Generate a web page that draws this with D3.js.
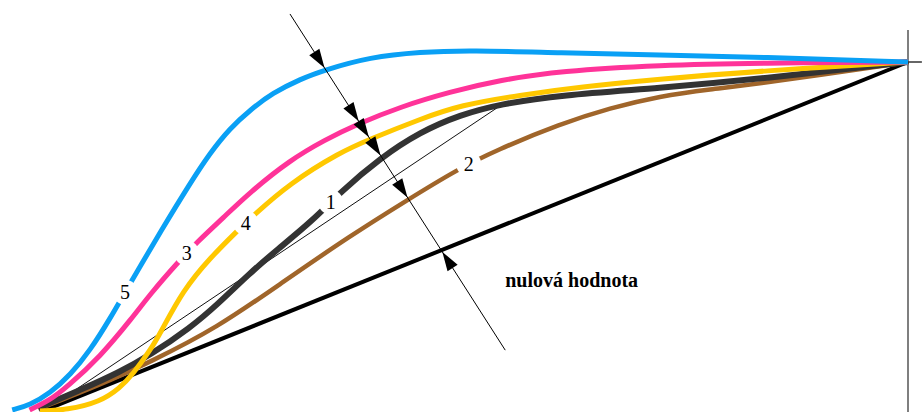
<!DOCTYPE html>
<html>
<head>
<meta charset="utf-8">
<script src="https://cdn.jsdelivr.net/npm/d3@7/dist/d3.min.js"></script>
<style>
  html, body { margin: 0; padding: 0; background: #fff; }
  svg { display: block; }
  text { font-family: "Liberation Serif", "Times New Roman", "DejaVu Serif", serif; }
</style>
</head>
<body>
<svg id="chart" width="922" height="412"></svg>
<script>
// Curve 5 (blue)
const x5 = [-3.2, -1.2, 1.2, 3.5, 5.8, 8.1, 9.8, 11.5, 13.8, 17.3, 19.6, 21.9, 24.2, 26.8, 30.0, 32.8, 38.0, 43.8, 49.5, 59.9, 71.4, 82.9, 100];
const y5 = [0, 1.4, 4.9, 10.1, 17.2, 26.4, 33.9, 41.1, 50.9, 65.2, 73.9, 81.0, 86.2, 91.1, 95.1, 97.7, 101.4, 102.9, 103.4, 102.6, 102.0, 101.4, 100];
// Curve 3 (pink)
const x3 = [-1.2, 1.2, 3.1, 6.9, 10.7, 12.7, 15.8, 18.1, 21.1, 24.2, 28.8, 32.8, 36.6, 41.5, 47.2, 53.0, 59.9, 71.4, 82.9, 100];
const y3 = [0, 2.9, 6.6, 15.2, 26.7, 33.3, 42.2, 48.3, 55.2, 62.6, 71.8, 77.6, 82.2, 87.1, 91.4, 94.8, 97.4, 99.1, 99.7, 100];
// Curve 4 (yellow)
const x4 = [0, 3.1, 6.9, 9.2, 10.7, 12.7, 13.8, 16.5, 19.6, 22.7, 24.5, 28.8, 34.6, 37.8, 43.8, 48.4, 55.3, 62.2, 71.4, 82.9, 100];
const y4 = [-0.3, 0, 2.3, 6.3, 10.3, 17.2, 21.8, 34.5, 43.7, 51.4, 55.7, 65.2, 74.1, 77.6, 83.6, 87.6, 90.5, 92.8, 95.1, 97.4, 100];
// Curve 1 (dark grey)
const x1 = [-0.2, 4.6, 9.2, 12.7, 17.3, 20.4, 24.2, 27.3, 31.5, 34.6, 39.2, 43.8, 48.4, 53.0, 59.9, 71.4, 82.9, 100];
const y1 = [0.6, 5.7, 10.9, 15.8, 23.6, 30.2, 39.4, 46.0, 54.6, 62.6, 72.4, 79.9, 84.8, 87.9, 90.5, 92.5, 95.1, 100];
// Curve 2 (brown)
const x2 = [-0.2, 6.9, 12.7, 20.4, 28.0, 35.7, 42.3, 48.0, 52.6, 59.9, 65.7, 71.4, 77.2, 82.9, 100];
const y2 = [0.3, 7.2, 13.8, 23.6, 36.8, 50.0, 60.3, 69.0, 74.7, 82.2, 86.8, 90.2, 92.2, 93.7, 100];
// Zero-value reference line
const zeroX = [0, 100];
const zeroY = [-0.6, 100];
// Thin tangent line to curve 1
const tangentX = [0.6, 53.0];
const tangentY = [0, 87.4];
// Measuring direction (arrow line)
const arrowX = [28.8, 53.6];
const arrowY = [113.8, 17.2];
// Right border line and its tick
const borderX = [100, 100];
const borderY = [109.2, -0.6];
const tickX = [100, 101.6];
const tickY = [100, 100];
// Curve labels and where along x they sit
const labels = ["5", "3", "4", "1", "2"];
const labelAt = [9.8, 16.9, 23.7, 33.5, 49.4];
const zeroLabel = "nulová hodnota";

const W = 922, H = 412;
const svg = d3.select("#chart");
const x = d3.scaleLinear().domain([0, 100]).range([40, 908]);
const y = d3.scaleLinear().domain([0, 100]).range([410, 62]);

const line = d3.line().x(d => x(d[0])).y(d => y(d[1]));
const smooth = d3.line().x(d => x(d[0])).y(d => y(d[1])).curve(d3.curveBasis);
const zip = (a, b) => a.map((v, i) => [v, b[i]]);

const series = [
  { name: "2", xs: x2, ys: y2, color: "#a0652a", width: 4.5 },
  { name: "1", xs: x1, ys: y1, color: "#333333", width: 6 },
  { name: "4", xs: x4, ys: y4, color: "#ffc800", width: 5 },
  { name: "3", xs: x3, ys: y3, color: "#ff3399", width: 5 },
  { name: "5", xs: x5, ys: y5, color: "#0aa0f5", width: 5 }
];

// right border and tick
svg.append("path").attr("d", line(zip(borderX, borderY)))
  .attr("stroke", "#555").attr("stroke-width", 1.5).attr("fill", "none");
svg.append("path").attr("d", line(zip(tickX, tickY)))
  .attr("stroke", "#333").attr("stroke-width", 1.5).attr("fill", "none");

// zero-value line
const zeroPath = svg.append("path").attr("d", line(zip(zeroX, zeroY)))
  .attr("stroke", "#000").attr("stroke-width", 4).attr("fill", "none");

// tangent line
svg.append("path").attr("d", line(zip(tangentX, tangentY)))
  .attr("stroke", "#111").attr("stroke-width", 1).attr("fill", "none");

const defs = svg.append("defs");

// point on a path at a given x (paths are monotone in x)
function pointAtX(node, px) {
  const total = node.getTotalLength();
  let lo = 0, hi = total;
  for (let i = 0; i < 40; i++) {
    const mid = (lo + hi) / 2;
    if (node.getPointAtLength(mid).x < px) lo = mid; else hi = mid;
  }
  return node.getPointAtLength((lo + hi) / 2);
}

const paths = {};
series.forEach(s => {
  const p = svg.append("path")
    .attr("d", smooth(zip(s.xs, s.ys)))
    .attr("stroke", s.color).attr("stroke-width", s.width)
    .attr("fill", "none");
  paths[s.name] = { sel: p, s };
});

// label gaps and labels
labels.forEach((lab, i) => {
  const entry = paths[lab];
  const pt = pointAtX(entry.sel.node(), x(labelAt[i]));
  const m = defs.append("mask").attr("id", "gap" + lab)
    .attr("maskUnits", "userSpaceOnUse")
    .attr("x", 0).attr("y", 0).attr("width", W).attr("height", H);
  m.append("rect").attr("width", W).attr("height", H).attr("fill", "#fff");
  m.append("circle").attr("cx", pt.x).attr("cy", pt.y).attr("r", 12.5).attr("fill", "#000");
  entry.sel.attr("mask", "url(#gap" + lab + ")");
  svg.append("text")
    .attr("x", pt.x).attr("y", pt.y + 7)
    .attr("text-anchor", "middle")
    .attr("font-size", 20).attr("fill", "#000")
    .text(lab);
});

// arrow line
const A = { x: x(arrowX[0]), y: y(arrowY[0]) };
const B = { x: x(arrowX[1]), y: y(arrowY[1]) };
svg.append("path").attr("d", line(zip(arrowX, arrowY)))
  .attr("stroke", "#000").attr("stroke-width", 1).attr("fill", "none");
const len = Math.hypot(B.x - A.x, B.y - A.y);
const u = { x: (B.x - A.x) / len, y: (B.y - A.y) / len };
const n = { x: -u.y, y: u.x };

function crossing(node) {
  const total = node.getTotalLength();
  const f = p => u.x * (p.y - A.y) - u.y * (p.x - A.x);
  let prev = node.getPointAtLength(0), fp = f(prev);
  for (let l = 1; l <= total; l += 1) {
    const cur = node.getPointAtLength(l), fc = f(cur);
    if ((fp < 0) !== (fc < 0)) {
      const t = fp / (fp - fc);
      return { x: prev.x + t * (cur.x - prev.x), y: prev.y + t * (cur.y - prev.y) };
    }
    prev = cur; fp = fc;
  }
  return null;
}

function arrowHead(tip, dir) {
  const L = 19, w = 6;
  const bx = tip.x - dir.x * L, by = tip.y - dir.y * L;
  return `M${tip.x},${tip.y}L${bx + n.x * w},${by + n.y * w}L${bx - n.x * w},${by - n.y * w}Z`;
}

["5", "3", "4", "1", "2"].forEach(name => {
  const { sel, s } = paths[name];
  const c = crossing(sel.node());
  if (!c) return;
  const tip = { x: c.x - u.x * s.width / 2, y: c.y - u.y * s.width / 2 };
  svg.append("path").attr("d", arrowHead(tip, u)).attr("fill", "#000");
});
{
  const c = crossing(zeroPath.node());
  if (c) {
    const tip = { x: c.x + u.x * 2, y: c.y + u.y * 2 };
    svg.append("path").attr("d", arrowHead(tip, { x: -u.x, y: -u.y })).attr("fill", "#000");
  }
}

// zero-value caption
svg.append("text")
  .attr("x", x(53.6)).attr("y", y(35.4))
  .attr("font-weight", "bold").attr("font-size", 20).attr("fill", "#000")
  .text(zeroLabel);
</script>
</body>
</html>
